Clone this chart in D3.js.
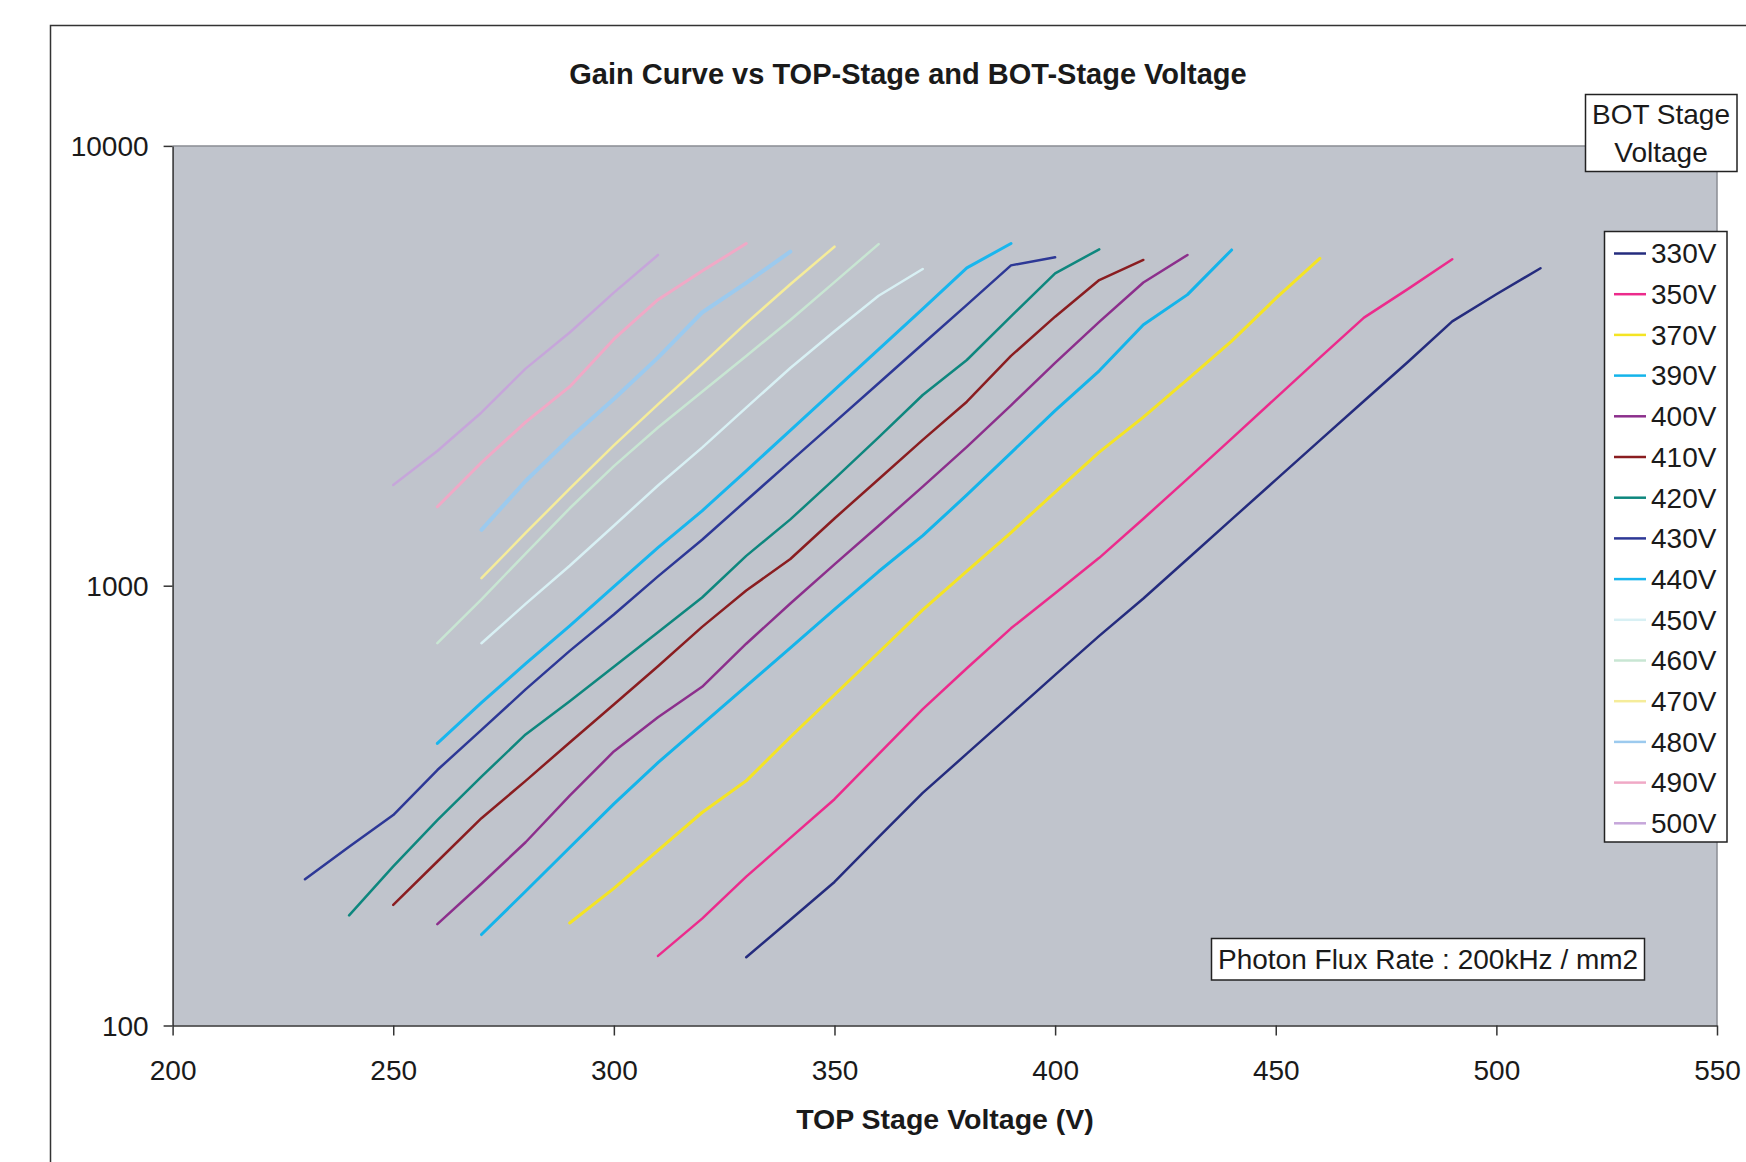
<html lang="en">
<head>
	<meta charset="utf-8">
	<title>Gain Curve vs TOP-Stage and BOT-Stage Voltage</title>
	<script src="https://d3js.org/d3.v7.min.js"></script>
	<style>
		body {
			margin: 0;
			background-color: #fff;
		}
		svg {
			display: block;
			font-family: "Liberation Sans", Arial, sans-serif;
		}
		.axis path, .axis line {
			stroke: #333;
			stroke-width: 1.5px;
		}
		.axis text {
			font-size: 28px;
			fill: #1a1a1a;
		}
		.series {
			fill: none;
			stroke-linejoin: round;
			stroke-linecap: round;
		}
		.box {
			fill: #fff;
			stroke: #222;
			stroke-width: 1.5px;
		}
	</style>
</head>

<body>
	<svg id="chart" width="1746" height="1162"></svg>
</body>
<script>
	//TOP stage voltage (V), shared x column of the sheet
	var topVoltage = [230, 240, 250, 260, 270, 280, 290, 300, 310, 320, 330, 340, 350, 360, 370,
		380, 390, 400, 410, 420, 430, 440, 450, 460, 470, 480, 490, 500, 510];

	//gain per BOT stage voltage, one column each (_ = not measured)
	var _ = null;
	var gain330 = [_, _, _, _, _, _, _, _, _, _, 143, 174, 212, 268, 338, 415, 510, 627, 769, 935, 1150, 1415, 1740, 2140, 2630, 3230, 3990, 4600, 5270];
	var gain350 = [_, _, _, _, _, _, _, _, 144, 175, 218, 267, 327, 414, 524, 649, 800, 961, 1157, 1420, 1750, 2160, 2670, 3300, 4070, 4730, 5525, _, _];
	var gain370 = [_, _, _, _, _, _, 171, 205, 250, 305, 360, 453, 565, 705, 881, 1079, 1321, 1632, 2012, 2417, 2944, 3597, 4500, 5550, _, _, _, _, _];
	var gain390 = [_, _, _, _, 161, 202, 254, 319, 396, 484, 591, 722, 883, 1077, 1300, 1608, 2005, 2500, 3080, 3920, 4590, 5800, _, _, _, _, _, _, _];
	var gain400 = [_, _, _, 170, 210, 261, 333, 420, 502, 589, 738, 911, 1118, 1369, 1680, 2068, 2571, 3211, 3980, 4890, 5650, _, _, _, _, _, _, _, _];
	var gain410 = [_, _, 188, 236, 296, 360, 440, 537, 656, 806, 975, 1150, 1422, 1746, 2145, 2620, 3330, 4090, 4955, 5503, _, _, _, _, _, _, _, _, _];
	var gain420 = [_, 178, 230, 293, 368, 459, 546, 654, 784, 940, 1169, 1415, 1749, 2175, 2714, 3260, 4095, 5130, 5820, _, _, _, _, _, _, _, _, _, _];
	var gain430 = [215, 255, 301, 381, 470, 581, 711, 860, 1050, 1272, 1562, 1917, 2352, 2887, 3544, 4350, 5350, 5580, _, _, _, _, _, _, _, _, _, _, _];
	var gain440 = [_, _, _, 438, 542, 665, 810, 995, 1220, 1480, 1825, 2255, 2787, 3446, 4262, 5280, 6000, _, _, _, _, _, _, _, _, _, _, _, _];
	var gain450 = [_, _, _, _, 740, 909, 1110, 1369, 1690, 2060, 2540, 3126, 3789, 4564, 5250, _, _, _, _, _, _, _, _, _, _, _, _, _, _];
	var gain460 = [_, _, _, 740, 931, 1183, 1500, 1870, 2290, 2760, 3330, 4020, 4900, 5980, _, _, _, _, _, _, _, _, _, _, _, _, _, _, _];
	var gain470 = [_, _, _, _, 1040, 1318, 1662, 2084, 2584, 3190, 3954, 4845, 5900, _, _, _, _, _, _, _, _, _, _, _, _, _, _, _, _];
	var gain480 = [_, _, _, _, 1340, 1730, 2163, 2658, 3300, 4180, 4880, 5750, _, _, _, _, _, _, _, _, _, _, _, _, _, _, _, _, _];
	var gain490 = [_, _, _, 1512, 1906, 2355, 2835, 3635, 4470, 5192, 6000, _, _, _, _, _, _, _, _, _, _, _, _, _, _, _, _, _, _];
	var gain500 = [_, _, 1694, 2025, 2477, 3116, 3764, 4638, 5650, _, _, _, _, _, _, _, _, _, _, _, _, _, _, _, _, _, _, _, _];

	var botLabels = ["330V", "350V", "370V", "390V", "400V", "410V", "420V", "430V",
		"440V", "450V", "460V", "470V", "480V", "490V", "500V"];
	var gains = [gain330, gain350, gain370, gain390, gain400, gain410, gain420, gain430,
		gain440, gain450, gain460, gain470, gain480, gain490, gain500];

	var xTicks = [200, 250, 300, 350, 400, 450, 500, 550];
	var yTicks = [100, 1000, 10000];

	//excel style series colours (as printed)
	var colors = ["#252c7e", "#ec2b8c", "#f4e424", "#14b4ea", "#8c2f8c", "#8a1d20", "#0e877e", "#2d3896",
		"#18b6ee", "#d8f0f4", "#c8e6d3", "#f5ec9a", "#9ccaee", "#f0a9c6", "#c6a6da"];
	var widths = [2.5, 2.5, 3, 3, 2.5, 2.5, 2.5, 2.5, 3, 2.5, 2.5, 2.5, 4, 3, 2.5];

	var svg = d3.select("#chart");
	var plot = {left: 172.6, right: 1717, top: 145.9, bottom: 1025.5};

	//outer chart border runs off the page
	svg.append("rect")
		.attr("x", 50.5).attr("y", 25.5)
		.attr("width", 1800).attr("height", 1200)
		.attr("fill", "#fff").attr("stroke", "#333").attr("stroke-width", 1.5);

	var x = d3.scaleLinear().domain([200, 550]).range([plot.left, plot.right]);
	var y = d3.scaleLog().domain([100, 10000]).range([plot.bottom, plot.top]);

	//plot area
	svg.append("rect")
		.attr("x", plot.left).attr("y", plot.top)
		.attr("width", plot.right - plot.left).attr("height", plot.bottom - plot.top)
		.attr("fill", "#c0c4cc");
	svg.append("path")
		.attr("d", "M" + plot.left + "," + plot.top + "H" + plot.right + "V" + plot.bottom)
		.attr("fill", "none").attr("stroke", "#8a8d94").attr("stroke-width", 1.5);

	//title
	svg.append("text")
		.attr("x", 908).attr("y", 74).attr("dy", "0.35em")
		.attr("text-anchor", "middle")
		.style("font-size", "29px").style("font-weight", "bold").attr("fill", "#1a1a1a")
		.text("Gain Curve vs TOP-Stage and BOT-Stage Voltage");

	//x axis
	var gx = svg.append("g")
		.attr("class", "axis")
		.attr("transform", "translate(0," + plot.bottom + ")")
		.call(d3.axisBottom(x).tickValues(xTicks).tickFormat(d3.format("d")).tickSize(10).tickSizeOuter(0));
	gx.selectAll("text").attr("y", 54).attr("dy", "0").style("font-family", "inherit");

	//y axis
	var gy = svg.append("g")
		.attr("class", "axis")
		.attr("transform", "translate(" + plot.left + ",0)")
		.call(d3.axisLeft(y).tickValues(yTicks).tickFormat(d3.format("d")).tickSize(9).tickPadding(15).tickSizeOuter(0));
	gy.selectAll("text").attr("dy", "0.35em").style("font-family", "inherit");

	svg.append("text")
		.attr("x", 945).attr("y", 1119).attr("dy", "0.35em")
		.attr("text-anchor", "middle")
		.style("font-size", "28.5px").style("font-weight", "bold").attr("fill", "#1a1a1a")
		.text("TOP Stage Voltage (V)");

	//series lines
	var line = d3.line()
		.defined(function (d) { return d.gain != null; })
		.x(function (d) { return x(d.top); })
		.y(function (d) { return y(d.gain); });

	var allSeries = gains.map(function (g, i) {
		return {
			id: botLabels[i],
			index: i,
			values: topVoltage.map(function (v, k) { return {top: v, gain: g[k]}; })
		};
	});

	svg.append("g").selectAll("path")
		.data(allSeries.slice().reverse())
		.enter().append("path")
		.attr("class", "series")
		.attr("d", function (d) { return line(d.values); })
		.attr("stroke", function (d) { return colors[d.index]; })
		.attr("stroke-width", function (d) { return widths[d.index]; });

	//legend title box
	svg.append("rect").attr("class", "box")
		.attr("x", 1585.5).attr("y", 94.5).attr("width", 151.5).attr("height", 77);
	svg.append("text")
		.attr("x", 1661).attr("y", 114).attr("dy", "0.35em").attr("text-anchor", "middle")
		.style("font-size", "28px").attr("fill", "#1a1a1a").text("BOT Stage");
	svg.append("text")
		.attr("x", 1661).attr("y", 152).attr("dy", "0.35em").attr("text-anchor", "middle")
		.style("font-size", "28px").attr("fill", "#1a1a1a").text("Voltage");

	//legend
	var legend = svg.append("g");
	legend.append("rect").attr("class", "box")
		.attr("x", 1604.5).attr("y", 231.5).attr("width", 122.5).attr("height", 610.5);
	var item = legend.selectAll(".legend")
		.data(allSeries)
		.enter().append("g")
		.attr("class", "legend")
		.attr("transform", function (d) { return "translate(1614," + (253.5 + d.index * 40.7) + ")"; });
	item.append("line")
		.attr("x1", 0).attr("x2", 32)
		.attr("stroke", function (d) { return colors[d.index]; })
		.attr("stroke-width", 2.5);
	item.append("text")
		.attr("x", 37).attr("dy", "0.35em")
		.style("font-size", "28px").attr("fill", "#1a1a1a")
		.text(function (d) { return d.id; });

	//flux note
	svg.append("rect").attr("class", "box")
		.attr("x", 1211.5).attr("y", 938.5).attr("width", 433).attr("height", 41.5);
	svg.append("text")
		.attr("x", 1218).attr("y", 959).attr("dy", "0.35em")
		.style("font-size", "28px").attr("fill", "#1a1a1a")
		.text("Photon Flux Rate : 200kHz / mm2");
</script>

</html>
